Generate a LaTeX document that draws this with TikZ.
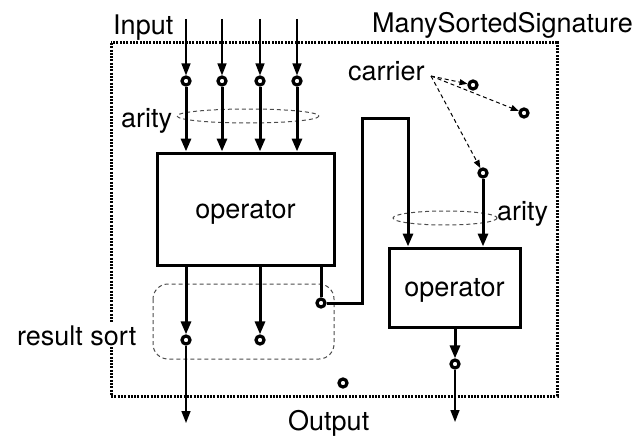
\documentclass[tikz,border=0pt]{standalone}
\usepackage{fontspec}
\setmainfont{TeX Gyre Heros}
\usetikzlibrary{arrows.meta}
\begin{document}
\begin{tikzpicture}[x=1pt,y=-1pt,
  lbl/.style={font=\fontsize{27}{32}\selectfont, inner sep=0pt},
  port/.style={circle,draw,line width=3.2pt,inner sep=0pt,minimum size=8pt,fill=white},
  thinarrow/.style={line width=1.6pt,-{Triangle[width=9pt,length=12pt]}},
  thickarrow/.style={line width=3pt,-{Triangle[width=10pt,length=13pt]}},
  thickline/.style={line width=3pt},
  opbox/.style={draw,line width=3pt,inner sep=0pt,font=\fontsize{27}{32}\selectfont,text depth=0pt},
  group/.style={draw=black!70,line width=1pt,dash pattern=on 4pt off 3pt},
  carrow/.style={line width=1pt,dash pattern=on 4pt off 3pt,-{Triangle[width=6pt,length=8pt]}},
  frame/.style={line width=3pt,dash pattern=on 2pt off 1.3pt},
]
\useasboundingbox (0,0) rectangle (643,436);

% frame
\draw[frame] (111,43) rectangle (557,396);

% operators
\node[opbox,minimum width=177pt,minimum height=112pt] (op1) at (245.5,209) {operator};
\node[opbox,minimum width=131pt,minimum height=79pt] (op2) at (454.5,287.5) {operator};

% arity groups
\draw[group] (248,116) ellipse [x radius=71, y radius=7];
\draw[group] (445,218) ellipse [x radius=52, y radius=7];
% result sort group
\draw[group,rounded corners=15pt] (153,284) rectangle (334,359);

% inputs
\foreach \n/\x in {1/186,2/222,3/260,4/297} {
  \node[port] (i\n) at (\x,81) {};
  \coordinate (s\n) at (\x,19);
  \draw[thinarrow] (s\n) -- (i\n);
  \draw[thickarrow] (i\n) -- (i\n |- op1.north);
}

% outputs of op1
\node[port] (r1) at (186,340) {};
\node[port] (r2) at (260,340) {};
\node[port] (r3) at (321,303) {};
\draw[thickarrow] (op1.south -| r1) -- (r1);
\draw[thickarrow] (op1.south -| r2) -- (r2);
\draw[thickline] (op1.south -| r3) -- (r3);
\coordinate (b1) at (362,303);
\coordinate (b2) at (362,118);
\coordinate (b3) at (408,118);
\draw[thickarrow] (r3) -- (b1) -- (b2) -- (b3) -- (b3 |- op2.north);
\coordinate (e1) at (186,423);
\draw[thinarrow] (r1) -- (e1);

% carrier
\node[port] (c1) at (473,85) {};
\node[port] (c2) at (524,113) {};
\node[port] (p5) at (483,173) {};
\coordinate (cs) at (431,76);
\draw[carrow] (cs) -- (c1);
\draw[carrow] (cs) -- (c2);
\draw[carrow] (cs) -- (p5);
\draw[thickarrow] (p5) -- (p5 |- op2.north);

% output of op2
\node[port] (q1) at (455,364) {};
\draw[thickarrow] (op2.south -| q1) -- (q1);
\coordinate (e2) at (455,422);
\draw[thinarrow] (q1) -- (e2);

% lone sort
\node[port] (lp) at (343,383) {};

% labels
\node[lbl,anchor=base west] (tin) at (113,35) {Input};
\node[lbl,anchor=base west] (tsig) at (372,33) {ManySortedSignature};
\node[lbl,anchor=base west] (tcar) at (348,81) {carrier};
\node[lbl,anchor=base west] (tar1) at (121,127) {arity};
\node[lbl,anchor=base west] (tar2) at (497,220) {arity};
\node[lbl,anchor=base west,fill=white,inner sep=2pt] (tres) at (15,345) {result sort};
\node[lbl,anchor=base west] (tout) at (288,430) {Output};
\end{tikzpicture}
\end{document}
